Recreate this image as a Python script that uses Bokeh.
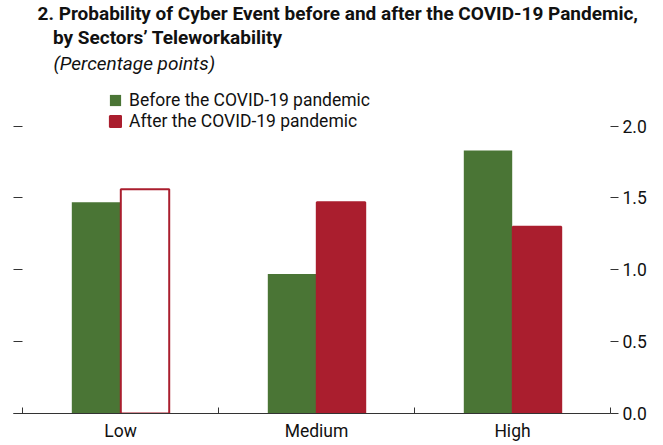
from bokeh.plotting import figure
from bokeh.models import (Range1d, FixedTicker, LinearAxis, Title, Legend, LegendItem,
                          ColumnDataSource, NumeralTickFormatter)
from bokeh.embed import file_html
from bokeh.resources import INLINE

categories = ["Low", "Medium", "High"]
before_vals = [1.47, 0.97, 1.83]
after_vals = [1.56, 1.47, 1.30]
series_labels = ["Before the COVID-19 pandemic", "After the COVID-19 pandemic"]
y_ticks = [0.0, 0.5, 1.0, 1.5, 2.0]
title_lines = ["2. Probability of Cyber Event before and after the COVID-19 Pandemic,",
               "by Sectors\u2019 Teleworkability"]
subtitle = "(Percentage points)"

GREEN = "#4A7535"
RED = "#AA1E2E"
FONT = "Roboto"

centers = [i + 0.5 for i in range(len(categories))]
before_x = [c - 0.125 for c in centers]
after_x = [c + 0.125 for c in centers]
after_fill = ["white"] + [RED] * (len(categories) - 1)

p = figure(width=663, height=445, output_backend="svg", toolbar_location=None,
           x_range=Range1d(-0.046, 3.0), y_range=Range1d(0, 2.359),
           min_border_left=13, min_border_right=53, min_border_bottom=32, min_border_top=73)
p.outline_line_color = None
p.xgrid.visible = False
p.ygrid.visible = False
p.background_fill_color = "white"

src_b = ColumnDataSource(dict(x=before_x, top=before_vals))
src_a = ColumnDataSource(dict(x=after_x, top=after_vals, fill=after_fill))
rb = p.vbar(x="x", top="top", width=0.247, source=src_b, fill_color=GREEN, line_color=None)
ra = p.vbar(x="x", top="top", width=0.247, source=src_a, fill_color="fill",
            line_color=RED, line_width=2)

# x axis
xa = p.xaxis[0]
xa.ticker = FixedTicker(ticks=centers, minor_ticks=list(range(len(categories) + 1)))
xa.major_label_overrides = {c: name for c, name in zip(centers, categories)}
xa.major_tick_in = 0
xa.major_tick_out = 0
xa.minor_tick_in = 6
xa.minor_tick_out = 0
xa.axis_line_color = "#333333"
xa.minor_tick_line_color = "#333333"
xa.major_label_standoff = 7
xa.major_label_text_font = FONT
xa.major_label_text_font_size = "17.5px"
xa.major_label_text_color = "#111111"

# left y axis (ticks only)
ya = p.yaxis[0]
ya.ticker = FixedTicker(ticks=y_ticks)
ya.major_label_overrides = {t: "" for t in y_ticks}
ya.axis_line_color = None
ya.major_tick_in = 9
ya.major_tick_out = 0
ya.minor_tick_line_color = None
ya.major_label_standoff = 0
ya.major_tick_line_color = "#333333"

# right y axis
yr = LinearAxis(ticker=FixedTicker(ticks=y_ticks), formatter=NumeralTickFormatter(format="0.0"))
yr.axis_line_color = None
yr.major_tick_in = 0
yr.major_tick_out = 8
yr.minor_tick_line_color = None
yr.major_tick_line_color = "#333333"
yr.major_label_standoff = 4
yr.major_label_text_font = FONT
yr.major_label_text_font_size = "17.5px"
yr.major_label_text_color = "#111111"
p.add_layout(yr, "right")

# legend
legend = Legend(items=[LegendItem(label=series_labels[0], renderers=[rb], index=0),
                       LegendItem(label=series_labels[1], renderers=[ra], index=1)],
                location=(95, 282), orientation="vertical")
legend.padding = 0
legend.margin = 0
legend.spacing = 0
legend.border_line_color = None
legend.background_fill_alpha = 0
legend.glyph_width = 14
legend.glyph_height = 14
legend.label_height = 21
legend.label_standoff = 7
legend.label_text_font = FONT
legend.label_text_font_size = "17.5px"
legend.label_text_color = "#111111"
p.add_layout(legend)

# titles
p.title = None
t3 = Title(text=subtitle, align="left", offset=40, text_font=FONT,
           text_font_size="19px", text_font_style="italic", text_color="#111111", standoff=0)
t12 = Title(text=title_lines[0] + "\n\u2007\u00a0" + title_lines[1],
            align="left", offset=24, text_font=FONT, text_font_size="19px",
            text_font_style="bold", text_color="#111111", standoff=0, text_line_height=1.05)
p.add_layout(t3, "above")
p.add_layout(t12, "above")

open("out.html", "w").write(file_html(p, INLINE))
